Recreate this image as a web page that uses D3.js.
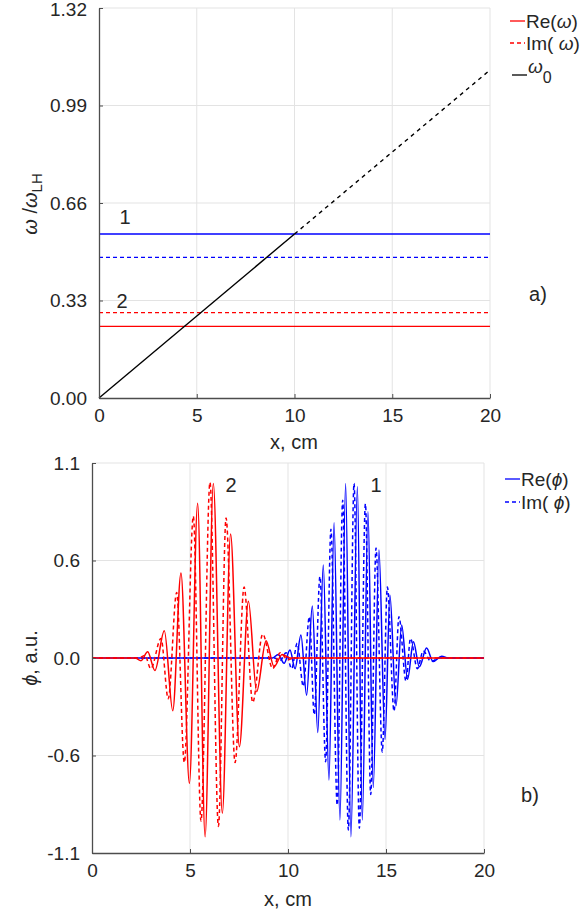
<!DOCTYPE html>
<html>
<head>
<meta charset="utf-8">
<script src="https://cdn.jsdelivr.net/npm/d3@7"></script>
<style>
  body { margin: 0; background: #fff; }
  svg { font-family: "Liberation Sans", Arial, sans-serif; }
</style>
</head>
<body>
<svg id="chart" width="582" height="915"></svg>
<script>
// ---- Panel a): frequencies vs. position ----
const omegaTicks = [0, 0.33, 0.66, 0.99, 1.32];
const omegaTickLabels = ["0.00", "0.33", "0.66", "0.99", "1.32"];
const xTicks = [0, 5, 10, 15, 20];
const xTickLabels = ["0", "5", "10", "15", "20"];

// mode levels (constant along x)
const modeSpan = [0, 20];
const re1 = 0.555, im1 = 0.476;   // mode 1 (blue)
const re2 = 0.2425, im2 = 0.289;  // mode 2 (red)

// local frequency omega_0(x)
const omega0X = [0, 10, 20];
const omega0Y = [0, 0.555, 1.11];

// ---- Panel b): wave packets (extrema read along x) ----
const phiTicks = [-1.1, -0.55, 0, 0.55, 1.1];
const phiTickLabels = ["-1.1", "-0.6", "0.0", "0.6", "1.1"];

const re2X = [0, 2.2, 2.5, 2.84, 3.21, 3.69, 4.12, 4.54, 4.97, 5.39, 5.77, 6.19, 6.65, 7.07, 7.52, 7.98, 8.40, 8.88, 9.29, 9.7, 10.1, 20];
const re2Y = [0, 0, -0.015, 0.035, -0.07, 0.154, -0.297, 0.48, -0.707, 0.873, -1.008, 0.985, -0.876, 0.70, -0.50, 0.32, -0.19, 0.098, -0.049, 0.02, 0, 0];

const im2X = [0, 2.4, 2.7, 3.0, 3.52, 3.89, 4.32, 4.71, 5.17, 5.56, 6.02, 6.45, 6.84, 7.30, 7.76, 8.20, 8.71, 9.22, 9.6, 10.0, 10.3, 20];
const im2Y = [0, 0, 0.015, -0.06, 0.11, -0.23, 0.37, -0.59, 0.80, -0.92, 0.99, -0.95, 0.79, -0.59, 0.40, -0.25, 0.135, -0.06, 0.03, -0.01, 0, 0];

const re1X = [0, 9.2, 9.5, 9.8, 10.1, 10.36, 10.66, 10.95, 11.24, 11.52, 11.80, 12.09, 12.35, 12.65, 12.94, 13.21, 13.54, 13.79, 14.08, 14.35, 14.64, 14.95, 15.2, 15.51, 15.8, 16.1, 16.4, 16.7, 17.07, 17.4, 17.84, 18.2, 20];
const re1Y = [0, 0, 0.02, -0.03, 0.045, -0.06, 0.13, -0.21, 0.293, -0.42, 0.525, -0.688, 0.763, -0.914, 0.985, -1.008, 0.966, -0.914, 0.825, -0.73, 0.609, -0.46, 0.355, -0.27, 0.186, -0.12, 0.092, -0.05, 0.056, -0.02, 0.01, 0, 0];

const im1X = [0, 9.3, 9.6, 9.9, 10.19, 10.47, 10.78, 11.09, 11.34, 11.63, 11.92, 12.19, 12.51, 12.79, 13.08, 13.37, 13.64, 13.95, 14.22, 14.49, 14.81, 15.07, 15.41, 15.66, 16.02, 16.25, 16.6, 16.9, 17.3, 17.7, 20];
const im1Y = [0, 0, -0.015, 0.03, -0.06, 0.083, -0.16, 0.233, -0.32, 0.46, -0.585, 0.726, -0.83, 0.89, -0.97, 0.985, -0.96, 0.87, -0.77, 0.62, -0.53, 0.40, -0.30, 0.233, -0.13, 0.11, -0.06, 0.04, -0.02, 0, 0];

const RED = "#ff0000", BLUE = "#0000ff";
const GRID = "#e3e3e3", AXIS = "#4d4d4d", TXT = "#262626";
const TICK_FS = "19px", FS = 20, LEG_FS = 19;

const svg = d3.select("#chart");

function zip(xs, ys) { return xs.map((x, i) => [x, ys[i]]); }

function panel(g, xs, ys, yTicks, yLabels) {
  const [x0, x1] = xs.range(), [yb, yt] = ys.range();
  // grid
  g.append("g").selectAll("line").data(xTicks.slice(1)).join("line")
    .attr("x1", d => xs(d)).attr("x2", d => xs(d)).attr("y1", yb).attr("y2", yt)
    .attr("stroke", GRID).attr("stroke-width", 1);
  g.append("g").selectAll("line").data(yTicks.slice(1)).join("line")
    .attr("x1", x0).attr("x2", x1).attr("y1", d => ys(d)).attr("y2", d => ys(d))
    .attr("stroke", GRID).attr("stroke-width", 1);
  const marks = g.append("g");
  // axes
  const ax = g.append("g").attr("transform", `translate(0,${yb})`)
    .call(d3.axisBottom(xs).tickValues(xTicks).tickFormat((d, i) => xTickLabels[i]).tickSizeInner(-4).tickSizeOuter(0).tickPadding(11));
  const ay = g.append("g").attr("transform", `translate(${x0},0)`)
    .call(d3.axisLeft(ys).tickValues(yTicks).tickFormat((d, i) => yLabels[i]).tickSizeInner(-4).tickSizeOuter(0).tickPadding(12));
  [ax, ay].forEach(a => {
    a.select(".domain").attr("stroke", AXIS).attr("stroke-width", 1.3);
    a.selectAll(".tick line").attr("stroke", AXIS);
    a.selectAll(".tick text").attr("fill", TXT).style("font-size", TICK_FS).style("font-family", "Liberation Sans, Arial, sans-serif");
  });
  return marks;
}

function label(g, x, y, s, anchor) {
  g.append("text").attr("x", x).attr("y", y).attr("text-anchor", anchor || "middle")
    .attr("font-size", FS).attr("fill", TXT).text(s);
}

// ---------- Panel a ----------
const xA = d3.scaleLinear([0, 20], [99, 490]);
const yA = d3.scaleLinear([0, 1.32], [398, 8]);
const gA = svg.append("g");
const mA = panel(gA, xA, yA, omegaTicks, omegaTickLabels);
// keep the top tick label inside the page
gA.selectAll(".tick text").filter((d) => d === 1.32).attr("dy", "0.42em");

const lineA = d3.line().x(d => xA(d[0])).y(d => yA(d[1]));
const levels = [
  { v: re1, c: BLUE, dash: null },
  { v: im1, c: BLUE, dash: "4,3" },
  { v: im2, c: RED, dash: "4,3" },
  { v: re2, c: RED, dash: null }
];
levels.forEach(l => {
  mA.append("path").attr("d", lineA(modeSpan.map(x => [x, l.v])))
    .attr("fill", "none").attr("stroke", l.c).attr("stroke-width", 1.4)
    .attr("stroke-dasharray", l.dash);
});
const om = zip(omega0X, omega0Y);
mA.append("path").attr("d", lineA(om.filter(d => d[0] <= 10)))
  .attr("fill", "none").attr("stroke", "#000").attr("stroke-width", 1.4);
mA.append("path").attr("d", lineA(om.filter(d => d[0] >= 10)))
  .attr("fill", "none").attr("stroke", "#000").attr("stroke-width", 1.4).attr("stroke-dasharray", "4,4");

label(gA, 125, 224, "1");
label(gA, 122, 308, "2");
label(gA, 538, 301, "a)");
label(gA, 294, 449, "x, cm");

// y label a
const yla = gA.append("text").attr("transform", "translate(37,204) rotate(-90)")
  .attr("text-anchor", "middle").attr("font-size", FS).attr("fill", TXT);
yla.append("tspan").attr("font-style", "italic").text("ω");
yla.append("tspan").text(" /");
yla.append("tspan").attr("font-style", "italic").text("ω");
yla.append("tspan").attr("dy", 5).attr("font-size", 15).text("LH");

// legend a
const legA = gA.append("g");
[
  { y: 21, c: RED, dash: null, parts: [["Re(", false], ["ω", true], [")", false]] },
  { y: 43, c: RED, dash: "4,3", parts: [["Im( ", false], ["ω", true], [")", false]] }
].forEach(e => {
  legA.append("line").attr("x1", 510).attr("x2", 525).attr("y1", e.y).attr("y2", e.y)
    .attr("stroke", e.c).attr("stroke-width", 1.3).attr("stroke-dasharray", e.dash);
  const t = legA.append("text").attr("x", 526).attr("y", e.y + 7).attr("font-size", LEG_FS).attr("fill", TXT);
  e.parts.forEach(p => t.append("tspan").attr("font-style", p[1] ? "italic" : null).text(p[0]));
});
legA.append("line").attr("x1", 512).attr("x2", 527).attr("y1", 75).attr("y2", 75).attr("stroke", "#000").attr("stroke-width", 1.3);
const t0 = legA.append("text").attr("x", 528).attr("y", 73).attr("font-size", LEG_FS).attr("fill", TXT);
t0.append("tspan").attr("font-style", "italic").text("ω");
t0.append("tspan").attr("dy", 10).attr("font-size", 16).text("0");

// ---------- Panel b ----------
const xB = d3.scaleLinear([0, 20], [92, 484]);
const yB = d3.scaleLinear([-1.1, 1.1], [853, 463]);
const gB = svg.append("g");
const mB = panel(gB, xB, yB, phiTicks, phiTickLabels);

const lineB = d3.line().x(d => xB(d[0])).y(d => yB(d[1])).curve(d3.curveMonotoneX);
[
  { xs: re1X, ys: re1Y, c: BLUE, dash: null },
  { xs: im1X, ys: im1Y, c: BLUE, dash: "4,3" },
  { xs: re2X, ys: re2Y, c: RED, dash: null },
  { xs: im2X, ys: im2Y, c: RED, dash: "4,3" }
].forEach(s => {
  mB.append("path").attr("d", lineB(zip(s.xs, s.ys)))
    .attr("fill", "none").attr("stroke", s.c).attr("stroke-width", 1.5)
    .attr("stroke-dasharray", s.dash);
});

label(gB, 231, 492, "2");
label(gB, 376, 492, "1");
label(gB, 530, 802, "b)");
label(gB, 288, 906, "x, cm");

const ylb = gB.append("text").attr("transform", "translate(37,658) rotate(-90)")
  .attr("text-anchor", "middle").attr("font-size", FS).attr("fill", TXT);
ylb.append("tspan").attr("font-style", "italic").text("ϕ");
ylb.append("tspan").text(", a.u.");

const legB = gB.append("g");
[
  { y: 479, dash: null, parts: [["Re(", false], ["ϕ", true], [")", false]] },
  { y: 502, dash: "4,3", parts: [["Im( ", false], ["ϕ", true], [")", false]] }
].forEach(e => {
  legB.append("line").attr("x1", 505).attr("x2", 520).attr("y1", e.y).attr("y2", e.y)
    .attr("stroke", BLUE).attr("stroke-width", 1.3).attr("stroke-dasharray", e.dash);
  const t = legB.append("text").attr("x", 521).attr("y", e.y + 7).attr("font-size", LEG_FS).attr("fill", TXT);
  e.parts.forEach(p => t.append("tspan").attr("font-style", p[1] ? "italic" : null).text(p[0]));
});
</script>
</body>
</html>
